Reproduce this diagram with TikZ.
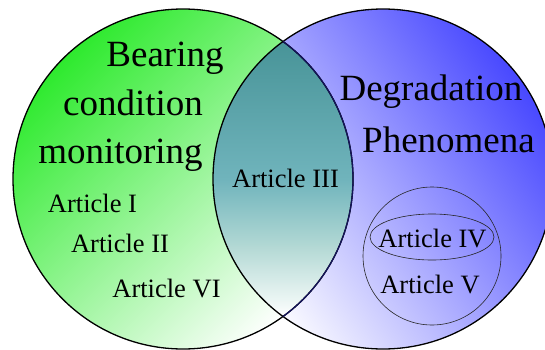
\documentclass[tikz,border=0pt]{standalone}
\usepackage{fontspec}
\setmainfont{Liberation Serif}
\usepackage{xcolor}
\usepackage{tikz}
\usetikzlibrary{positioning,shapes.geometric}
\definecolor{bcmgreen}{HTML}{2EEA2E}
\definecolor{degblue}{HTML}{4848FF}
\definecolor{overteal}{RGB}{72,148,152}
\definecolor{overmid}{RGB}{112,180,188}
\definecolor{overlight}{RGB}{178,216,212}
\definecolor{overpale}{RGB}{236,246,244}
\definecolor{arcnavy}{HTML}{14145A}
\pgfdeclareverticalshading{overlapshade}{100bp}{color(0bp)=(white); color(25bp)=(white);
  color(28bp)=(overpale); color(38bp)=(overlight); color(50bp)=(overmid);
  color(75bp)=(overteal); color(100bp)=(overteal)}

\begin{document}
\begin{tikzpicture}[x=1pt,y=1pt,
    bigtitle/.style={anchor=base,inner sep=0pt,font=\fontsize{37}{44}\selectfont},
    article/.style={anchor=base,inner sep=0pt,font=\fontsize{26.5}{32}\selectfont},
    field/.style={line width=1.3pt},
    ring/.style={draw=black!85,line width=0.6pt,inner sep=0pt}]
  \useasboundingbox (0,0) rectangle (545,349);
  \coordinate (bcm) at (183,170);
  \coordinate (deg) at (383,170);

  % the two fields
  \shade[top color=bcmgreen, bottom color=white, shading angle=45] (bcm) circle (170);
  \shade[top color=degblue, bottom color=white, shading angle=-55] (deg) circle (170);
  \begin{scope}
    \clip (bcm) circle (170);
    \clip (deg) circle (170);
    \shade[shading=overlapshade] (210,32) rectangle (360,307);
  \end{scope}
  \draw[field] (bcm) circle (170);
  \draw[field] (deg) circle (170);
  \begin{scope}
    \clip (deg) circle (170);
    \draw[field,arcnavy] (bcm) circle (170);
  \end{scope}

  % inner group
  \node[ring,circle,minimum size=138pt] (group) at (432,93) {};
  \node[ring,ellipse,minimum width=124pt,minimum height=46pt] (art4ring) at (432,112) {};

  % titles
  \node[bigtitle] (bearing) at (165,283) {Bearing};
  \node[bigtitle] (condition) at (133,234) {condition};
  \node[bigtitle] (monitoring) at (120.5,186) {monitoring};
  \node[bigtitle] (degradation) at (431,249) {Degradation};
  \node[bigtitle] (phenomena) at (448.5,197) {Phenomena};

  % articles
  \node[article] (art1) at (92.5,137) {Article I};
  \node[article] (art2) at (120,97) {Article II};
  \node[article] (art6) at (166.5,52) {Article VI};
  \node[article] (art3) at (285.5,162) {Article III};
  \node[article] (art4) at (432.5,102) {Article IV};
  \node[article] (art5) at (430,56) {Article V};
\end{tikzpicture}
\end{document}
